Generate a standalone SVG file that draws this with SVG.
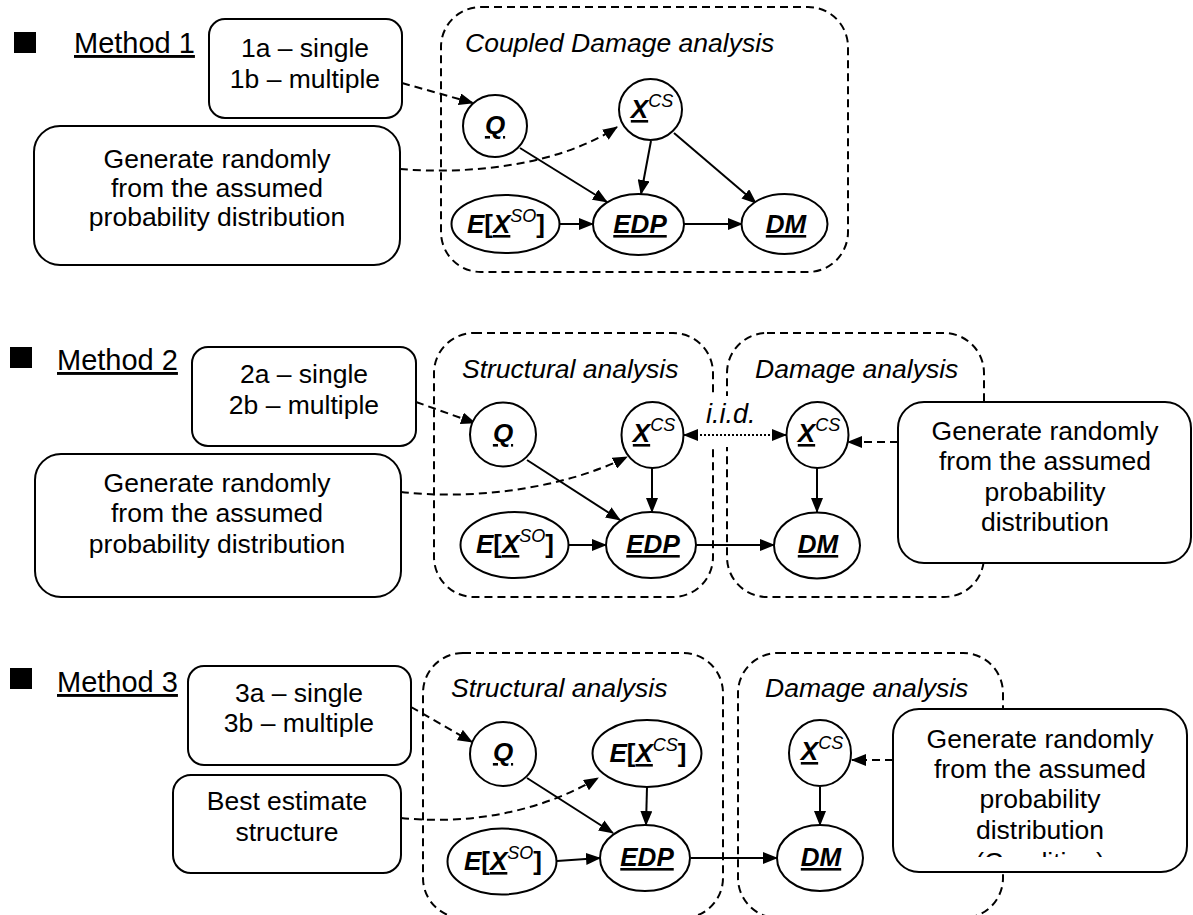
<svg xmlns="http://www.w3.org/2000/svg" width="1193" height="915" viewBox="0 0 1193 915">
<style>
text{font-family:"Liberation Sans",Arial,sans-serif;fill:#000}
.lbl{font-size:26.5px;text-anchor:middle}
.meth{font-size:29px;text-decoration:underline}
.ttl{font-size:26.5px;font-style:italic}
.nd{font-size:26px;font-weight:bold;font-style:italic;text-anchor:middle}
.sup{font-size:18px;font-weight:normal}
.br{font-style:normal}
.u{text-decoration:underline}
.grp{fill:none;stroke:#000;stroke-width:2;stroke-dasharray:8 5}
.box{fill:#fff;stroke:#000;stroke-width:2}
.node{fill:#fff;stroke:#000;stroke-width:2}
.ar{fill:none;stroke:#000;stroke-width:2;marker-end:url(#ah)}
.da{fill:none;stroke:#000;stroke-width:2;stroke-dasharray:8 5;marker-end:url(#ah)}
.dot{fill:none;stroke:#000;stroke-width:2;stroke-dasharray:2 2;marker-end:url(#ah);marker-start:url(#ah)}
</style>
<defs>
<marker id="ah" markerWidth="15" markerHeight="12" refX="14" refY="6" orient="auto-start-reverse" markerUnits="userSpaceOnUse"><path d="M0,0 L15,6 L0,12 z" fill="#000" stroke="none"/></marker>
<clipPath id="clip3"><rect x="893" y="700" width="300" height="157"/></clipPath>
</defs>
<rect width="1193" height="915" fill="#fff"/>

<!-- Method labels -->
<g id="method1-label"><rect x="14" y="32" width="22" height="21" fill="#000"/><text class="meth" x="74" y="53">Method 1</text></g>
<g id="method2-label"><rect x="10" y="347" width="22" height="21" fill="#000"/><text class="meth" x="57" y="370">Method 2</text></g>
<g id="method3-label"><rect x="10" y="668" width="22" height="21" fill="#000"/><text class="meth" x="57" y="692">Method 3</text></g>

<!-- Group boxes -->
<g id="grp-coupled"><rect class="grp" x="441" y="7" width="407" height="265" rx="40"/><text class="ttl" x="465" y="52">Coupled Damage analysis</text></g>
<g id="grp-struct2"><rect class="grp" x="434" y="333" width="279" height="264" rx="40"/><text class="ttl" x="462" y="378">Structural analysis</text></g>
<g id="grp-damage2"><rect class="grp" x="727" y="333" width="257" height="264" rx="40"/><text class="ttl" x="755" y="378">Damage analysis</text></g>
<g id="grp-struct3"><rect class="grp" x="423" y="653" width="300" height="265" rx="40"/><text class="ttl" x="451" y="697">Structural analysis</text></g>
<g id="grp-damage3"><rect class="grp" x="738" y="653" width="265" height="265" rx="40"/><text class="ttl" x="765" y="697">Damage analysis</text></g>

<!-- Text boxes -->
<g id="box1a"><rect class="box" x="209" y="19" width="193" height="99" rx="16"/><text class="lbl" x="305" y="57">1a – single</text><text class="lbl" x="305" y="88">1b – multiple</text></g>
<g id="box1gen"><rect class="box" x="34" y="126" width="366" height="139" rx="26"/><text class="lbl" x="217" y="168">Generate randomly</text><text class="lbl" x="217" y="197">from the assumed</text><text class="lbl" x="217" y="226">probability distribution</text></g>
<g id="box2a"><rect class="box" x="192" y="347" width="224" height="99" rx="16"/><text class="lbl" x="304" y="383">2a – single</text><text class="lbl" x="304" y="414">2b – multiple</text></g>
<g id="box2gen"><rect class="box" x="35" y="454" width="366" height="143" rx="26"/><text class="lbl" x="217" y="492">Generate randomly</text><text class="lbl" x="217" y="522">from the assumed</text><text class="lbl" x="217" y="553">probability distribution</text></g>
<g id="box2genR"><rect class="box" x="898" y="402" width="293" height="161" rx="26"/><text class="lbl" x="1045" y="440">Generate randomly</text><text class="lbl" x="1045" y="470">from the assumed</text><text class="lbl" x="1045" y="501">probability</text><text class="lbl" x="1045" y="531">distribution</text></g>
<g id="box3a"><rect class="box" x="188" y="666" width="223" height="99" rx="16"/><text class="lbl" x="299" y="702">3a – single</text><text class="lbl" x="299" y="732">3b – multiple</text></g>
<g id="box3best"><rect class="box" x="173" y="775" width="228" height="98" rx="18"/><text class="lbl" x="287" y="810">Best estimate</text><text class="lbl" x="287" y="841">structure</text></g>
<g id="box3genR"><rect class="box" x="893" y="709" width="294" height="163" rx="26"/><text class="lbl" x="1040" y="748">Generate randomly</text><text class="lbl" x="1040" y="778">from the assumed</text><text class="lbl" x="1040" y="808">probability</text><text class="lbl" x="1040" y="839">distribution</text><text class="lbl" x="1040" y="871" clip-path="url(#clip3)">(Condition)</text></g>

<!-- i.i.d. label background -->
<g id="iid-label"><rect x="702" y="396" width="60" height="51" fill="#fff"/><text x="706" y="423" font-size="27" font-style="italic">i.i.d.</text></g>

<!-- Connectors -->
<g id="connectors">
<path class="da" d="M402,83 L473,103"/>
<path class="da" d="M400,169 C470,175 560,165 617,127"/>
<path class="ar" d="M520,148 L607,202"/>
<path class="ar" d="M651,141 L641,194"/>
<path class="ar" d="M674,133 L756,203"/>
<path class="ar" d="M559,224 L593,224"/>
<path class="ar" d="M684,224 L742,224"/>

<path class="da" d="M416,402 L475,423"/>
<path class="da" d="M401,492 C470,500 560,490 627,457"/>
<path class="ar" d="M527,460 L620,520"/>
<path class="ar" d="M652,468 L652,512"/>
<path class="ar" d="M568,545 L606,545"/>
<path class="ar" d="M696,545 L774,545"/>
<path class="dot" d="M684,435 L786,435"/>
<path class="ar" d="M817,468 L817,512"/>
<path class="da" d="M898,442 L848,442"/>

<path class="da" d="M411,707 L472,742"/>
<path class="da" d="M401,818 C470,825 540,812 598,778"/>
<path class="ar" d="M527,778 L613,833"/>
<path class="ar" d="M647,787 L646,825"/>
<path class="ar" d="M557,861 L600,858"/>
<path class="ar" d="M691,858 L777,858"/>
<path class="ar" d="M820,787 L820,825"/>
<path class="da" d="M893,760 L852,760"/>
</g>

<!-- Method 1 nodes -->
<g id="m1-Q"><ellipse class="node" cx="495" cy="126" rx="32" ry="31"/><text class="nd" x="495" y="134"><tspan class="u">Q</tspan></text></g>
<g id="m1-XCS"><ellipse class="node" cx="650.5" cy="109.5" rx="31.5" ry="30.5"/><text class="nd" x="652" y="118" font-size="27"><tspan class="u">X</tspan><tspan class="sup" dy="-11">CS</tspan></text></g>
<g id="m1-EXSO"><ellipse class="node" cx="505.5" cy="224" rx="54" ry="29"/><text class="nd" x="506" y="233">E<tspan class="br">[</tspan><tspan class="u">X</tspan><tspan class="sup" dy="-11">SO</tspan><tspan class="br" dy="11">]</tspan></text></g>
<g id="m1-EDP"><ellipse class="node" cx="638.5" cy="224.5" rx="45.5" ry="30.5"/><text class="nd" x="640" y="233"><tspan class="u">EDP</tspan></text></g>
<g id="m1-DM"><ellipse class="node" cx="784.5" cy="224" rx="43" ry="30"/><text class="nd" x="786" y="233"><tspan class="u">DM</tspan></text></g>

<!-- Method 2 nodes -->
<g id="m2-Q"><ellipse class="node" cx="503" cy="434.5" rx="33" ry="32"/><text class="nd" x="503" y="442"><tspan class="u">Q</tspan></text></g>
<g id="m2-XCS"><ellipse class="node" cx="652.5" cy="435" rx="31" ry="33"/><text class="nd" x="654" y="442" font-size="27"><tspan class="u">X</tspan><tspan class="sup" dy="-11">CS</tspan></text></g>
<g id="m2-EXSO"><ellipse class="node" cx="514.5" cy="545" rx="54" ry="33"/><text class="nd" x="515" y="553">E<tspan class="br">[</tspan><tspan class="u">X</tspan><tspan class="sup" dy="-11">SO</tspan><tspan class="br" dy="11">]</tspan></text></g>
<g id="m2-EDP"><ellipse class="node" cx="651" cy="545" rx="45" ry="33"/><text class="nd" x="653" y="553"><tspan class="u">EDP</tspan></text></g>
<g id="m2-XCS-dmg"><ellipse class="node" cx="817.5" cy="435" rx="31" ry="33"/><text class="nd" x="819" y="442" font-size="27"><tspan class="u">X</tspan><tspan class="sup" dy="-11">CS</tspan></text></g>
<g id="m2-DM"><ellipse class="node" cx="817" cy="545.5" rx="43" ry="33"/><text class="nd" x="818" y="553"><tspan class="u">DM</tspan></text></g>

<!-- Method 3 nodes -->
<g id="m3-Q"><ellipse class="node" cx="503" cy="754" rx="33" ry="32"/><text class="nd" x="503" y="761"><tspan class="u">Q</tspan></text></g>
<g id="m3-EXCS"><ellipse class="node" cx="647" cy="753.5" rx="54.5" ry="33.5"/><text class="nd" x="648" y="762">E<tspan class="br">[</tspan><tspan class="u">X</tspan><tspan class="sup" dy="-11">CS</tspan><tspan class="br" dy="11">]</tspan></text></g>
<g id="m3-EXSO"><ellipse class="node" cx="502" cy="861.5" rx="54.5" ry="33"/><text class="nd" x="503" y="870">E<tspan class="br">[</tspan><tspan class="u">X</tspan><tspan class="sup" dy="-11">SO</tspan><tspan class="br" dy="11">]</tspan></text></g>
<g id="m3-EDP"><ellipse class="node" cx="645" cy="858" rx="45" ry="33"/><text class="nd" x="647" y="866"><tspan class="u">EDP</tspan></text></g>
<g id="m3-XCS-dmg"><ellipse class="node" cx="820" cy="753" rx="31" ry="33"/><text class="nd" x="822" y="760" font-size="27"><tspan class="u">X</tspan><tspan class="sup" dy="-11">CS</tspan></text></g>
<g id="m3-DM"><ellipse class="node" cx="820" cy="858" rx="43" ry="33"/><text class="nd" x="821" y="866"><tspan class="u">DM</tspan></text></g>
</svg>
